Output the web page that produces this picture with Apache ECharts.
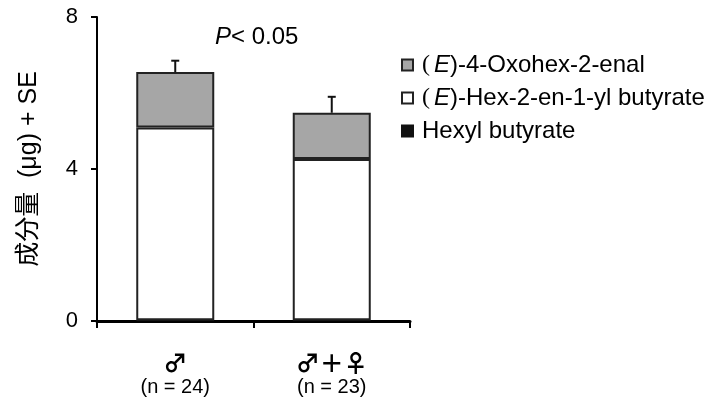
<!DOCTYPE html>
<html>
<head>
<meta charset="utf-8">
<script src="https://cdn.jsdelivr.net/npm/echarts@6/dist/echarts.min.js"></script>
<style>html,body{margin:0;padding:0;background:#fff;}#c{width:726px;height:398px;}</style>
</head>
<body>
<div id="c"></div>
<script>
var categories = ['♂', '♂＋♀'];
var sampleSizes = ['(n = 24)', '(n = 23)'];
var seriesNames = ['Hexyl butyrate', '(E)-Hex-2-en-1-yl butyrate', '(E)-4-Oxohex-2-enal'];
var hexylButyrate = [0.02, 0.02];
var hexenylButyrate = [5.07, 4.24];
var oxohexenal = [1.46, 1.22];
var seValues = [0.30, 0.42];
var yTicks = [0, 4, 8];

var FONT = 'Arial, "Liberation Sans", "Noto Sans CJK JP", sans-serif';
var totals = categories.map(function (c, i) { return hexylButyrate[i] + hexenylButyrate[i] + oxohexenal[i]; });
var errData = categories.map(function (c, i) { return [i, totals[i], totals[i] + seValues[i]]; });

var chart = echarts.init(document.getElementById('c'));
chart.setOption({
  backgroundColor: '#fff',
  animation: false,
  grid: { left: 97, right: 316, top: 17, bottom: 77 },
  title: {
    text: '{i|P}{n|< 0.05}',
    left: 210, top: 20,
    textStyle: {
      fontWeight: 'normal',
      rich: {
        i: { fontFamily: FONT, fontSize: 24, fontStyle: 'italic', fontWeight: 'normal', color: '#000' },
        n: { fontFamily: FONT, fontSize: 24, fontWeight: 'normal', color: '#000' }
      }
    }
  },
  legend: {
    orient: 'vertical',
    left: 396, top: 48,
    itemWidth: 11, itemHeight: 11, itemGap: 9,
    icon: 'rect',
    data: [seriesNames[2], seriesNames[1], seriesNames[0]],
    formatter: function (name) {
      if (name.indexOf('(E)') === 0) {
        return '{p|(}{e|E}{n|)' + name.slice(3) + '}';
      }
      return '{n|' + name + '}';
    },
    textStyle: {
      padding: [0, 0, 0, 4],
      rich: {
        p: { fontFamily: '"Liberation Serif", serif', fontSize: 24, color: '#000', padding: [0, 4, 0, 0] },
        e: { fontFamily: FONT, fontSize: 24, fontStyle: 'italic', color: '#000' },
        n: { fontFamily: FONT, fontSize: 24, color: '#000' }
      }
    }
  },
  xAxis: {
    type: 'category',
    data: categories,
    axisLine: { lineStyle: { color: '#000', width: 3 } },
    axisTick: { show: true, length: 7, lineStyle: { color: '#000', width: 2 } },
    axisLabel: {
      margin: 29,
      formatter: function (v, i) { return '{s|' + v + '}\n{n|' + sampleSizes[i] + '}'; },
      rich: {
        s: { fontFamily: '"Noto Sans CJK JP", "DejaVu Sans"', fontSize: 24, lineHeight: 25, fontWeight: 'bold', color: '#000' },
        n: { fontFamily: FONT, fontSize: 20, lineHeight: 24, color: '#000' }
      }
    }
  },
  yAxis: {
    type: 'value',
    min: yTicks[0], max: yTicks[yTicks.length - 1], interval: 4,
    name: '成分量  (μg) + SE',
    nameLocation: 'middle',
    nameGap: 55,
    nameTextStyle: { fontFamily: FONT, fontSize: 25, color: '#000' },
    axisLine: { show: true, lineStyle: { color: '#000', width: 2 } },
    axisTick: { show: true, length: 6, lineStyle: { color: '#000', width: 2 } },
    axisLabel: { margin: 19, fontFamily: FONT, fontSize: 22, color: '#000' },
    splitLine: { show: false }
  },
  series: [
    {
      name: seriesNames[0], type: 'bar', stack: 'a', barWidth: 78,
      data: hexylButyrate,
      itemStyle: { color: '#111', borderColor: '#111', borderWidth: 1 }
    },
    {
      name: seriesNames[1], type: 'bar', stack: 'a', barWidth: 78,
      data: hexenylButyrate,
      itemStyle: { color: '#fff', borderColor: '#222', borderWidth: 2 }
    },
    {
      name: seriesNames[2], type: 'bar', stack: 'a', barWidth: 78,
      data: oxohexenal,
      itemStyle: { color: '#a6a6a6', borderColor: '#222', borderWidth: 2 }
    },
    {
      type: 'custom',
      data: errData,
      z: 10,
      renderItem: function (params, api) {
        var p0 = api.coord([api.value(0), api.value(1)]);
        var p1 = api.coord([api.value(0), api.value(2)]);
        var style = { stroke: '#111', lineWidth: 2 };
        return {
          type: 'group',
          children: [
            { type: 'line', shape: { x1: p0[0], y1: p0[1], x2: p1[0], y2: p1[1] }, style: style },
            { type: 'line', shape: { x1: p1[0] - 4, y1: p1[1], x2: p1[0] + 4, y2: p1[1] }, style: style }
          ]
        };
      }
    }
  ]
});
</script>
</body>
</html>
